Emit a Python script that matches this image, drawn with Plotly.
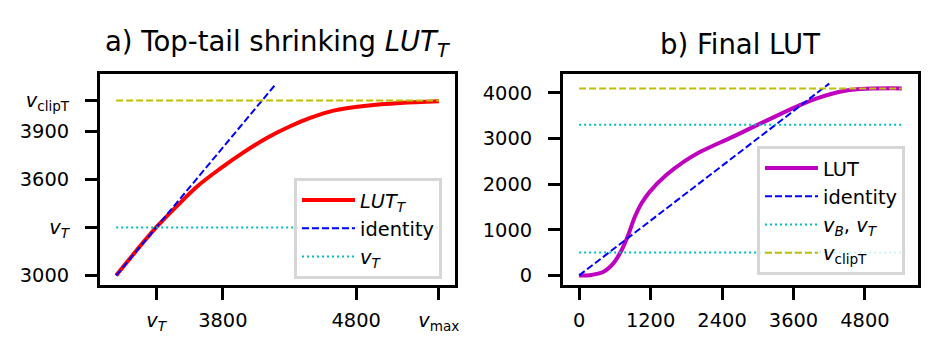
import plotly.graph_objects as go
from plotly.subplots import make_subplots

# key levels
v_B = 500
v_T = 3300
v_clipT = 4095
v_max = 5420

# a) top-tail shrinking LUT_T (read off the picture)
lut_t_x = [3000, 3300, 3455, 3605, 3780, 3955, 4130, 4305, 4455, 4630, 4880, 5130, 5420]
lut_t_y = [3000, 3300, 3433, 3555, 3668, 3770, 3860, 3933, 3985, 4031, 4062, 4079, 4090]
ident_a = [3000, 4200]

# b) final LUT
lut_x = [0, 180, 403, 571, 712, 823, 936, 1048, 1188, 1468, 1748, 2028, 2588, 3148, 3708, 4044, 4380, 4716, 5420]
lut_y = [0, 5, 73, 257, 550, 880, 1284, 1578, 1835, 2202, 2480, 2700, 3040, 3390, 3728, 3897, 4022, 4080, 4095]
ident_b = [0, 4200]

xticks_a = [v_T, 3800, 4800, v_max]
xtext_a = ["<i>v</i><sub><i>T</i></sub>", "3800", "4800", "<i>v</i><sub>max</sub>"]
yticks_a = [3000, v_T, 3600, 3900, v_clipT]
ytext_a = ["3000", "<i>v</i><sub><i>T</i></sub>", "3600", "3900", "<i>v</i><sub>clipT</sub>"]
xticks_b = [0, 1200, 2400, 3600, 4800]
yticks_b = [0, 1000, 2000, 3000, 4000]

FONT = "DejaVu Sans"
RED, BLUE, CYAN, YEL, MAG = "#ff0000", "#0000ff", "#00bfbf", "#bfbf00", "#bf00bf"
DASH = "7px,3px"
DOT = "2px,3px"

fig = make_subplots(rows=1, cols=2)

# panel a
fig.add_trace(go.Scatter(x=lut_t_x, y=lut_t_y, mode="lines", name="<i>LUT</i><sub><i>T</i></sub>",
                         line=dict(color=RED, width=4, shape="spline", smoothing=1.0), legend="legend"), 1, 1)
fig.add_trace(go.Scatter(x=ident_a, y=ident_a, mode="lines", name="identity",
                         line=dict(color=BLUE, width=2, dash=DASH), legend="legend"), 1, 1)
fig.add_trace(go.Scatter(x=[lut_t_x[0], v_max], y=[v_T, v_T], mode="lines", name="<i>v</i><sub><i>T</i></sub>",
                         line=dict(color=CYAN, width=2, dash=DOT), legend="legend"), 1, 1)
fig.add_trace(go.Scatter(x=[lut_t_x[0], v_max], y=[v_clipT, v_clipT], mode="lines", showlegend=False,
                         line=dict(color=YEL, width=2, dash=DASH)), 1, 1)

# panel b
fig.add_trace(go.Scatter(x=lut_x, y=lut_y, mode="lines", name="LUT",
                         line=dict(color=MAG, width=4, shape="spline", smoothing=1.0), legend="legend2"), 1, 2)
fig.add_trace(go.Scatter(x=ident_b, y=ident_b, mode="lines", name="identity",
                         line=dict(color=BLUE, width=2, dash=DASH), legend="legend2"), 1, 2)
fig.add_trace(go.Scatter(x=[0, v_max, None, 0, v_max], y=[v_B, v_B, None, v_T, v_T], mode="lines",
                         name="<i>v</i><sub><i>B</i></sub>, <i>v</i><sub><i>T</i></sub>",
                         line=dict(color=CYAN, width=2, dash=DOT), legend="legend2"), 1, 2)
fig.add_trace(go.Scatter(x=[0, v_max], y=[v_clipT, v_clipT], mode="lines", name="<i>v</i><sub>clipT</sub>",
                         line=dict(color=YEL, width=2, dash=DASH), legend="legend2"), 1, 2)

axis_style = dict(showline=True, mirror=True, linecolor="black", linewidth=3, ticks="outside",
                  ticklen=12, tickwidth=3, tickcolor="black", showgrid=False, zeroline=False,
                  automargin=False, tickfont=dict(family=FONT, size=19.4, color="black"))

fig.update_xaxes(axis_style, ticklabelstandoff=4)
fig.update_yaxes(axis_style, ticklabelstandoff=12)
fig.update_xaxes(domain=[100 / 939, 455 / 939], range=[2879, 5541], tickmode="array",
                 tickvals=xticks_a, ticktext=xtext_a, row=1, col=1)
fig.update_yaxes(domain=[76 / 361, 287 / 361], range=[2940, 4260], tickmode="array",
                 tickvals=yticks_a, ticktext=ytext_a, row=1, col=1)
fig.update_xaxes(domain=[563 / 939, 918 / 939], range=[-271, 5691], tickmode="array",
                 tickvals=xticks_b, row=1, col=2)
fig.update_yaxes(domain=[76 / 361, 287 / 361], range=[-210, 4410], tickmode="array",
                 tickvals=yticks_b, row=1, col=2)

legend_style = dict(xanchor="left", yanchor="top", bgcolor="rgba(255,255,255,0.8)", itemwidth=53,
                    bordercolor="#d6d6d6", borderwidth=3, font=dict(family=FONT, size=19.4, color="black"))
fig.update_layout(
    template="none",
    width=939, height=361, margin=dict(l=0, r=0, t=0, b=0),
    plot_bgcolor="white", paper_bgcolor="white",
    font=dict(family=FONT, color="black"),
    legend=dict(x=294 / 939, y=(361 - 178) / 361, **legend_style),
    legend2=dict(x=757 / 939, y=(361 - 146) / 361, **legend_style),
    annotations=[
        dict(text="a) Top-tail shrinking <i>LUT</i><sub><i>T</i></sub>", x=277.5 / 939, y=(361 - 44) / 361,
             xref="paper", yref="paper", xanchor="center", yanchor="middle", showarrow=False,
             font=dict(family=FONT, size=27.5, color="black")),
        dict(text="b) Final LUT", x=740 / 939, y=(361 - 44) / 361,
             xref="paper", yref="paper", xanchor="center", yanchor="middle", showarrow=False,
             font=dict(family=FONT, size=27.5, color="black")),
    ],
)

# drop the default body margin so the figure sits at the page origin
fig.write_html("out.html", config={"displayModeBar": False},
               post_script="document.body.style.margin='0';")
